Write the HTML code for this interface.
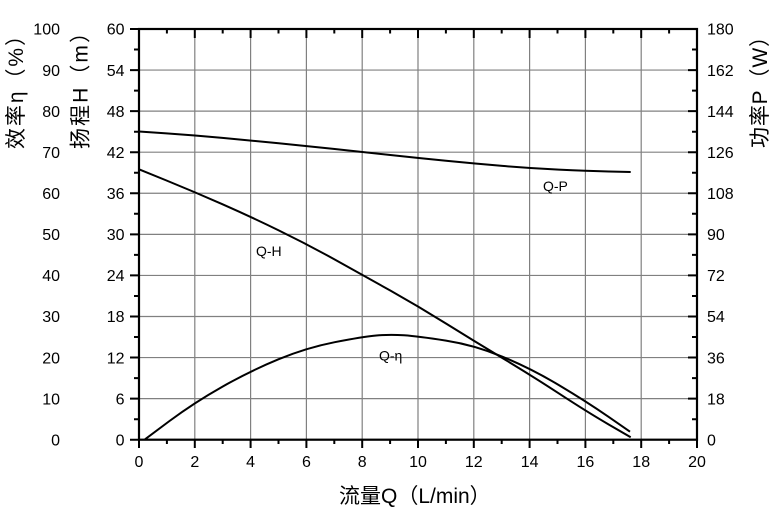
<!DOCTYPE html>
<html><head><meta charset="utf-8"><style>
html,body{margin:0;padding:0;background:#fff;}
svg{display:block;}
text{font-family:"Liberation Sans","Noto Sans CJK SC",sans-serif;fill:#000;}
</style></head><body>
<svg width="784" height="517" viewBox="0 0 784 517" xmlns="http://www.w3.org/2000/svg">
<rect x="0" y="0" width="784" height="517" fill="#fff"/>
<!-- grid -->
<g stroke="#808080" stroke-width="1.2" fill="none">
<line x1="194.8" y1="29" x2="194.8" y2="439.7"/>
<line x1="250.6" y1="29" x2="250.6" y2="439.7"/>
<line x1="306.4" y1="29" x2="306.4" y2="439.7"/>
<line x1="362.2" y1="29" x2="362.2" y2="439.7"/>
<line x1="418" y1="29" x2="418" y2="439.7"/>
<line x1="473.8" y1="29" x2="473.8" y2="439.7"/>
<line x1="529.6" y1="29" x2="529.6" y2="439.7"/>
<line x1="585.4" y1="29" x2="585.4" y2="439.7"/>
<line x1="641.2" y1="29" x2="641.2" y2="439.7"/>
<line x1="139" y1="70.07" x2="697" y2="70.07"/>
<line x1="139" y1="111.14" x2="697" y2="111.14"/>
<line x1="139" y1="152.21" x2="697" y2="152.21"/>
<line x1="139" y1="193.28" x2="697" y2="193.28"/>
<line x1="139" y1="234.35" x2="697" y2="234.35"/>
<line x1="139" y1="275.42" x2="697" y2="275.42"/>
<line x1="139" y1="316.49" x2="697" y2="316.49"/>
<line x1="139" y1="357.56" x2="697" y2="357.56"/>
<line x1="139" y1="398.63" x2="697" y2="398.63"/>
</g>
<!-- ticks -->
<g stroke="#000" stroke-width="2" fill="none">
<path d="M130 29H139M130 70.07H139M130 111.14H139M130 152.21H139M130 193.28H139M130 234.35H139M130 275.42H139M130 316.49H139M130 357.56H139M130 398.63H139M130 439.7H139"/>
<path d="M134 49.5H139M134 90.6H139M134 131.7H139M134 172.7H139M134 213.8H139M134 254.9H139M134 296H139M134 337H139M134 378.1H139M134 419.2H139"/>
<path d="M688 70.07H697M688 111.14H697M688 152.21H697M688 193.28H697M688 234.35H697M688 275.42H697M688 316.49H697M688 357.56H697M688 398.63H697"/>
<path d="M692 49.5H697M692 90.6H697M692 131.7H697M692 172.7H697M692 213.8H697M692 254.9H697M692 296H697M692 337H697M692 378.1H697M692 419.2H697"/>
<path d="M139 439.7V448M194.8 439.7V448M250.6 439.7V448M306.4 439.7V448M362.2 439.7V448M418 439.7V448M473.8 439.7V448M529.6 439.7V448M585.4 439.7V448M641.2 439.7V448M697 439.7V448"/>
<path d="M166.9 439.7V444M222.7 439.7V444M278.5 439.7V444M334.3 439.7V444M390.1 439.7V444M445.9 439.7V444M501.7 439.7V444M557.5 439.7V444M613.3 439.7V444M669.1 439.7V444"/>
<path d="M194.8 29V38M250.6 29V38M306.4 29V38M362.2 29V38M418 29V38M473.8 29V38M529.6 29V38M585.4 29V38M641.2 29V38"/>
<path d="M166.9 29V33.5M222.7 29V33.5M278.5 29V33.5M334.3 29V33.5M390.1 29V33.5M445.9 29V33.5M501.7 29V33.5M557.5 29V33.5M613.3 29V33.5M669.1 29V33.5"/>
</g>
<!-- frame -->
<rect x="139" y="29" width="558" height="410.7" fill="none" stroke="#000" stroke-width="2.2"/>
<!-- curves -->
<g fill="none" stroke="#000" stroke-width="2" stroke-linejoin="round" stroke-linecap="butt">
<path d="M139,131.5 L166.5,133.4 Q194,135.3 222.35,137.9 Q250.7,140.5 278.7,143.25 Q306.7,146 334.7,149 Q362.7,152 390.35,155 Q418,158 446,160.75 Q474,163.5 502.35,165.9 Q530.7,168.3 558.7,169.65 Q586.7,171 608.7,171.5 L630.7,172"/>
<path d="M139,169.3 L166.5,180.5 Q194,191.7 222.35,204.2 Q250.7,216.7 278.7,230.35 Q306.7,244 334.7,259.5 Q362.7,275 390.7,290.75 Q418.7,306.5 446.35,323.75 Q474,341 502.35,358 Q530.7,375 558.7,393.35 Q586.7,411.7 608.7,424.5 L630.7,437.3"/>
<path d="M145,439.3 L169.5,421 Q194,402.7 222.35,386.7 Q250.7,370.7 278.7,359.2 Q306.7,347.7 334.7,342.2 Q362.7,336.7 376.35,335.5 Q390,334.3 404,335.3 Q418,336.3 446,340.65 Q474,345 502.35,356.65 Q530.7,368.3 558.7,385 Q586.7,401.7 608.35,416.7 L630,431.7"/>
</g>
<!-- curve labels -->
<g font-size="14">
<text x="543" y="191">Q-P</text>
<text x="256" y="256">Q-H</text>
<text x="379" y="360.5">Q-η</text>
</g>
<!-- left eta tick labels -->
<g font-size="16" text-anchor="end">
<text x="60" y="34.7">100</text>
<text x="60" y="75.8">90</text>
<text x="60" y="116.8">80</text>
<text x="60" y="157.9">70</text>
<text x="60" y="199">60</text>
<text x="60" y="240">50</text>
<text x="60" y="281.1">40</text>
<text x="60" y="322.2">30</text>
<text x="60" y="363.3">20</text>
<text x="60" y="404.3">10</text>
<text x="60" y="445.4">0</text>
</g>
<!-- left H tick labels -->
<g font-size="16" text-anchor="end">
<text x="124.5" y="34.7">60</text>
<text x="124.5" y="75.8">54</text>
<text x="124.5" y="116.8">48</text>
<text x="124.5" y="157.9">42</text>
<text x="124.5" y="199">36</text>
<text x="124.5" y="240">30</text>
<text x="124.5" y="281.1">24</text>
<text x="124.5" y="322.2">18</text>
<text x="124.5" y="363.3">12</text>
<text x="124.5" y="404.3">6</text>
<text x="124.5" y="445.4">0</text>
</g>
<!-- right P tick labels -->
<g font-size="16" text-anchor="start">
<text x="707" y="34.7">180</text>
<text x="707" y="75.8">162</text>
<text x="707" y="116.8">144</text>
<text x="707" y="157.9">126</text>
<text x="707" y="199">108</text>
<text x="707" y="240">90</text>
<text x="707" y="281.1">72</text>
<text x="707" y="322.2">54</text>
<text x="707" y="363.3">36</text>
<text x="707" y="404.3">18</text>
<text x="707" y="445.4">0</text>
</g>
<!-- x tick labels -->
<g font-size="16" text-anchor="middle">
<text x="139" y="467">0</text>
<text x="194.8" y="467">2</text>
<text x="250.6" y="467">4</text>
<text x="306.4" y="467">6</text>
<text x="362.2" y="467">8</text>
<text x="418" y="467">10</text>
<text x="473.8" y="467">12</text>
<text x="529.6" y="467">14</text>
<text x="585.4" y="467">16</text>
<text x="641.2" y="467">18</text>
<text x="697" y="467">20</text>
</g>
<!-- axis titles -->
<text font-size="21" x="339" y="503">流量Q（L/min）</text>
<text font-size="21" transform="translate(23,149) rotate(-90)" textLength="124" lengthAdjust="spacing">效率η（%）</text>
<text font-size="21" transform="translate(87.5,149) rotate(-90)" textLength="127" lengthAdjust="spacing">扬程H（m）</text>
<text font-size="21" transform="translate(767,148) rotate(-90)" textLength="122" lengthAdjust="spacing">功率P（W）</text>
</svg>
</body></html>
